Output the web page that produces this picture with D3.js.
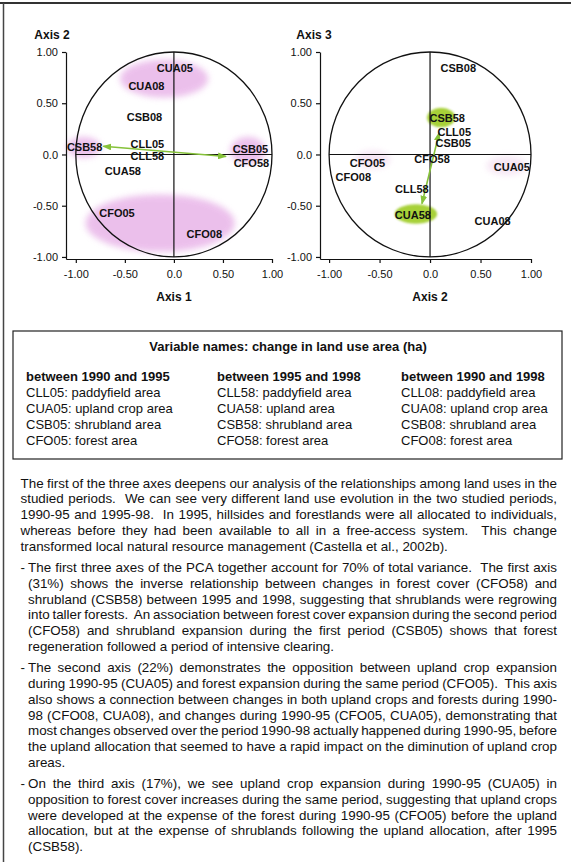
<!DOCTYPE html>
<html><head><meta charset="utf-8">
<script src="https://cdn.jsdelivr.net/npm/d3@7"></script>
<style>
body{margin:0;background:#fff}
svg{display:block}
text{font-family:"Liberation Sans",Arial,Helvetica,sans-serif;fill:#111}
</style>
</head><body>
<svg id="c" width="571" height="862"></svg>
<script>
// ---------------- DATA ----------------
const tickValues = [-1, -0.5, 0, 0.5, 1];
const tickLabels = ["-1.00", "-0.50", "0.0", "0.50", "1.00"];

// Plane 1: Axis 1 (x) vs Axis 2 (y)
const plane1Labels = ["CUA05","CUA08","CSB08","CLL05","CLL58","CSB58","CUA58","CSB05","CFO58","CFO05","CFO08"];
const plane1X      = [0.01, -0.28, -0.30, -0.27, -0.27, -0.91, -0.52, 0.78, 0.79, -0.58, 0.31];
const plane1Y      = [0.84,  0.67,  0.37,  0.10, -0.02,  0.07, -0.16, 0.05, -0.08, -0.57, -0.78];
const plane1BlobX  = [-0.10, -0.92, 0.755, -0.14];
const plane1BlobY  = [0.74, 0.07, 0.04, -0.67];
const plane1BlobRX = [0.45, 0.17, 0.18, 0.76];
const plane1BlobRY = [0.185, 0.10, 0.13, 0.28];
const plane1BlobKind = ["pink","pink","pink","pink"];
const plane1Arrow  = [[-0.72, 0.08], [0.53, -0.02]];

// Plane 2: Axis 2 (x) vs Axis 3 (y)
const plane2Labels = ["CSB08","CSB58","CLL05","CSB05","CFO58","CFO05","CFO08","CUA05","CLL58","CUA58","CUA08"];
const plane2X      = [0.28, 0.17, 0.24, 0.23, 0.02, -0.62, -0.76, 0.81, -0.18, -0.17, 0.62];
const plane2Y      = [0.84, 0.36, 0.22, 0.11, -0.04, -0.08, -0.22, -0.12, -0.34, -0.59, -0.65];
const plane2BlobX  = [-0.565, 0.76, 0.11, -0.14];
const plane2BlobY  = [-0.05, -0.11, 0.36, -0.58];
const plane2BlobRX = [0.17, 0.20, 0.14, 0.21];
const plane2BlobRY = [0.09, 0.09, 0.095, 0.095];
const plane2BlobKind = ["faint","faint","green","green"];
const plane2Arrow  = [[0.09, 0.21], [-0.08, -0.48]];

const legendTitle = "Variable names: change in land use area (ha)";
const legendHeads = ["between 1990 and 1995", "between 1995 and 1998", "between 1990 and 1998"];
const legendCol1 = ["CLL05: paddyfield area","CUA05: upland crop area","CSB05: shrubland area","CFO05: forest area"];
const legendCol2 = ["CLL58: paddyfield area","CUA58: upland area","CSB58: shrubland area","CFO58: forest area"];
const legendCol3 = ["CLL08: paddyfield area","CUA08: upland crop area","CSB08: shrubland area","CFO08: forest area"];

const para1 = [
"The first of the three axes deepens our analysis of the relationships among land uses in the",
"studied periods.  We can see very different land use evolution in the two studied periods,",
"1990-95 and 1995-98.  In 1995, hillsides and forestlands were all allocated to individuals,",
"whereas before they had been available to all in a free-access system.  This change",
"transformed local natural resource management (Castella et al., 2002b)."];
const para2 = [
"The first three axes of the PCA together account for 70% of total variance.  The first axis",
"(31%) shows the inverse relationship between changes in forest cover (CFO58) and",
"shrubland (CSB58) between 1995 and 1998, suggesting that shrublands were regrowing",
"into taller forests.  An association between forest cover expansion during the second period",
"(CFO58) and shrubland expansion during the first period (CSB05) shows that forest",
"regeneration followed a period of intensive clearing."];
const para3 = [
"The second axis (22%) demonstrates the opposition between upland crop expansion",
"during 1990-95 (CUA05) and forest expansion during the same period (CFO05).  This axis",
"also shows a connection between changes in both upland crops and forests during 1990-",
"98 (CFO08, CUA08), and changes during 1990-95 (CFO05, CUA05), demonstrating that",
"most changes observed over the period 1990-98 actually happened during 1990-95, before",
"the upland allocation that seemed to have a rapid impact on the diminution of upland crop",
"areas."];
const para4 = [
"On the third axis (17%), we see upland crop expansion during 1990-95 (CUA05) in",
"opposition to forest cover increases during the same period, suggesting that upland crops",
"were developed at the expense of the forest during 1990-95 (CFO05) before the upland",
"allocation, but at the expense of shrublands following the upland allocation, after 1995",
"(CSB58)."];

// ---------------- DRAW ----------------
const svg = d3.select("#c");
svg.append("rect").attr("width",571).attr("height",862).attr("fill","#fff");

const defs = svg.append("defs");
defs.append("filter").attr("id","blurP").attr("x","-50%").attr("y","-50%").attr("width","200%").attr("height","200%")
  .append("feGaussianBlur").attr("stdDeviation",3);
defs.append("filter").attr("id","blurG").attr("x","-50%").attr("y","-50%").attr("width","200%").attr("height","200%")
  .append("feGaussianBlur").attr("stdDeviation",1.2);
defs.append("marker").attr("id","arr").attr("viewBox","0 0 8 6").attr("refX",7).attr("refY",3)
  .attr("markerWidth",9).attr("markerHeight",7).attr("markerUnits","userSpaceOnUse")
  .attr("orient","auto-start-reverse")
  .append("path").attr("d","M0,0 L8,3 L0,6 Z").attr("fill","#86c23a");

// page borders
svg.append("line").attr("x1",0).attr("x2",571).attr("y1",3).attr("y2",3).attr("stroke","#333").attr("stroke-width",2);
svg.append("line").attr("x1",3.5).attr("x2",3.5).attr("y1",3).attr("y2",862).attr("stroke","#444").attr("stroke-width",1.5);

const blobFill = {pink:"#e7b0e7", faint:"#f4e0f2", green:"#a3cf2f"};

function drawPlane(o) {
  const x = d3.scaleLinear().domain(o.xDomain).range(o.xRange);
  const y = d3.scaleLinear().domain([-1.02, 1]).range([259, 52]);
  const g = svg.append("g");

  // highlight blobs
  o.bx.forEach((bx, i) => {
    const k = o.kind[i];
    g.append("ellipse")
      .attr("cx", x(bx)).attr("cy", y(o.by[i]))
      .attr("rx", x(o.brx[i]) - x(0)).attr("ry", y(0) - y(o.bry[i]))
      .attr("fill", blobFill[k])
      .attr("opacity", k === "green" ? 0.95 : 0.8)
      .attr("filter", k === "green" ? "url(#blurG)" : "url(#blurP)");
  });

  // correlation circle and crosshair
  g.append("ellipse").attr("cx", x(0)).attr("cy", y(0))
    .attr("rx", x(1) - x(0)).attr("ry", y(-1) - y(0))
    .attr("fill","none").attr("stroke","#111").attr("stroke-width",1.3);
  g.append("line").attr("x1", x(-1)).attr("x2", x(1)).attr("y1", y(0)).attr("y2", y(0))
    .attr("stroke","#111").attr("stroke-width",1.2);
  g.append("line").attr("x1", x(0)).attr("x2", x(0)).attr("y1", y(1)).attr("y2", y(-1))
    .attr("stroke","#111").attr("stroke-width",1.2);

  // axes
  const ax = g.append("g").attr("transform", `translate(0,${y(-1.02)})`)
    .call(d3.axisBottom(x).tickValues(tickValues).tickFormat((d,i)=>tickLabels[i]).tickSize(4).tickSizeOuter(0));
  const ay = g.append("g").attr("transform", `translate(${x(o.xDomain[0])},0)`)
    .call(d3.axisLeft(y).tickValues(tickValues).tickFormat((d,i)=>tickLabels[i]).tickSize(4).tickSizeOuter(0));
  [ax, ay].forEach(a => {
    a.attr("font-family", null).attr("font-size", null);
    a.selectAll("path,line").attr("stroke","#111").attr("stroke-width",1.2);
    a.selectAll("text").style("font-size","11px").attr("fill","#111");
  });
  ax.selectAll("text").attr("dy","1.05em");
  ay.selectAll("text").attr("x",-8);

  // axis titles
  g.append("text").attr("x", o.yTitleX).attr("y", 39).attr("text-anchor","middle")
    .style("font-size","12px").style("font-weight","bold").text(o.yTitle);
  g.append("text").attr("x", x(0)).attr("y", 301).attr("text-anchor","middle")
    .style("font-size","12px").style("font-weight","bold").text(o.xTitle);

  // arrow
  g.append("line")
    .attr("x1", x(o.arrow[0][0])).attr("y1", y(o.arrow[0][1]))
    .attr("x2", x(o.arrow[1][0])).attr("y2", y(o.arrow[1][1]))
    .attr("stroke","#86c23a").attr("stroke-width",1.6)
    .attr("marker-start","url(#arr)").attr("marker-end","url(#arr)");

  // labels
  o.labels.forEach((lab, i) => {
    g.append("text").attr("x", x(o.lx[i])).attr("y", y(o.ly[i])).attr("dy","0.36em")
      .attr("text-anchor","middle").style("font-size","11px").style("font-weight","bold").text(lab);
  });
}

drawPlane({xDomain:[-1.1, 1], xRange:[66, 272], labels:plane1Labels, lx:plane1X, ly:plane1Y,
  bx:plane1BlobX, by:plane1BlobY, brx:plane1BlobRX, bry:plane1BlobRY, kind:plane1BlobKind,
  arrow:plane1Arrow, yTitle:"Axis 2", xTitle:"Axis 1", yTitleX:52});
drawPlane({xDomain:[-1.09, 1], xRange:[320, 531], labels:plane2Labels, lx:plane2X, ly:plane2Y,
  bx:plane2BlobX, by:plane2BlobY, brx:plane2BlobRX, bry:plane2BlobRY, kind:plane2BlobKind,
  arrow:plane2Arrow, yTitle:"Axis 3", xTitle:"Axis 2", yTitleX:314});

// legend box
svg.append("rect").attr("x",13).attr("y",331).attr("width",549).attr("height",128)
  .attr("fill","none").attr("stroke","#222").attr("stroke-width",1.2);
svg.append("text").attr("x",288).attr("y",351).attr("text-anchor","middle")
  .style("font-size","13px").style("font-weight","bold").text(legendTitle);
const colX = [26, 217, 401];
[legendCol1, legendCol2, legendCol3].forEach((col, c) => {
  svg.append("text").attr("x", colX[c]).attr("y", 381).style("font-size","13px").style("font-weight","bold").text(legendHeads[c]);
  col.forEach((t, i) => {
    svg.append("text").attr("x", colX[c]).attr("y", 397 + i*16).style("font-size","13px").text(t);
  });
});

// paragraphs (justified)
const FS = 13.4, LH = 15.7, PX = 20.5, IX = 28, PR = 557;
const meas = svg.append("text").style("font-size", FS + "px").attr("opacity",0);
function w(t) { meas.text(t); return meas.node().getComputedTextLength(); }
function drawPara(lines, yc, bullet) {
  lines.forEach((line, i) => {
    const y = yc + i*LH + 4.7;
    const left = bullet ? IX : PX;
    if (bullet && i === 0) svg.append("text").attr("x", PX).attr("y", y).style("font-size", FS+"px").text("-");
    const toks = line.split(" ");
    const widths = toks.map(t => t ? w(t) : 0);
    const sum = d3.sum(widths);
    const nSep = toks.length - 1;
    const last = i === lines.length - 1;
    const gap = last ? FS*0.278 : (PR - left - sum) / nSep;
    let xx = left;
    toks.forEach((t, k) => {
      if (t) svg.append("text").attr("x", xx).attr("y", y).style("font-size", FS+"px").text(t);
      xx += widths[k] + gap;
    });
  });
}
drawPara(para1, 483, false);
drawPara(para2, 567.5, true);
drawPara(para3, 667.7, true);
drawPara(para4, 783.6, true);
meas.remove();
</script>
</body></html>
